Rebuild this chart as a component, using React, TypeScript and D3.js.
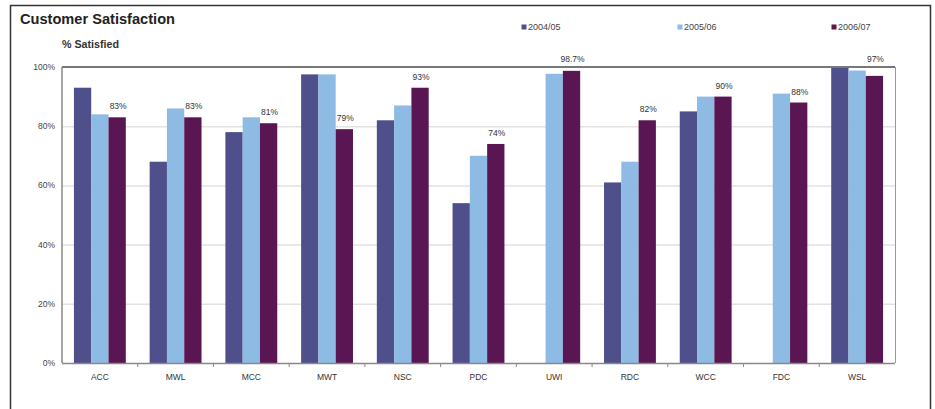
import { useEffect, useRef } from "react";
import * as d3 from "d3";

const categories = ["ACC", "MWL", "MCC", "MWT", "NSC", "PDC", "UWI", "RDC", "WCC", "FDC", "WSL"];
const seriesNames = ["2004/05", "2005/06", "2006/07"];
const values0405 = [93, 68, 78, 97.5, 82, 54, null, 61, 85, null, 100];
const values0506 = [84, 86, 83, 97.5, 87, 70, 97.7, 68, 90, 91, 98.8];
const values0607 = [83, 83, 81, 79, 93, 74, 98.7, 82, 90, 88, 97];
const barLabels = ["83%", "83%", "81%", "79%", "93%", "74%", "98.7%", "82%", "90%", "88%", "97%"];
const yTicks = [0, 20, 40, 60, 80, 100];
const colors = ["#4f4f8c", "#8dbbe4", "#5a1653"];

const W = 935;
const H = 409;

const App = () => {
  const svgRef = useRef<SVGSVGElement>(null);

  useEffect(() => {
    if (!svgRef.current) return;
    const svg = d3.select(svgRef.current);
    svg.selectAll("*").remove();

    const font = "'Liberation Sans', Arial, sans-serif";
    const plot = { left: 62, right: 895, top: 67, bottom: 363 };

    svg.append("rect").attr("width", W).attr("height", H).attr("fill", "#fff");

    // outer frame (open at the bottom)
    svg.append("path")
      .attr("d", `M10.5,${H}V5.5H930.5V${H}`)
      .attr("fill", "none")
      .attr("stroke", "#333")
      .attr("stroke-width", 1.5);

    svg.append("text")
      .attr("x", 20).attr("y", 24)
      .attr("font-family", font).attr("font-weight", "bold").attr("font-size", 14)
      .attr("textLength", 155).attr("lengthAdjust", "spacingAndGlyphs")
      .attr("fill", "#222")
      .text("Customer Satisfaction");

    svg.append("text")
      .attr("x", 62).attr("y", 48)
      .attr("font-family", font).attr("font-weight", "bold").attr("font-size", 10)
      .attr("textLength", 57).attr("lengthAdjust", "spacingAndGlyphs")
      .attr("fill", "#333")
      .text("% Satisfied");

    const x0 = d3.scaleBand<string>().domain(categories).range([plot.left, plot.right]);
    const x1 = d3.scaleBand<string>().domain(seriesNames)
      .range([0, x0.bandwidth()]).paddingInner(0).paddingOuter(0.69);
    const y = d3.scaleLinear().domain([0, 100]).range([plot.bottom, plot.top]);

    // gridlines
    svg.append("g").selectAll("line")
      .data(yTicks.filter((t) => t > 0 && t < 100))
      .enter().append("line")
      .attr("x1", plot.left).attr("x2", plot.right)
      .attr("y1", (d) => y(d) + 0.5).attr("y2", (d) => y(d) + 0.5)
      .attr("stroke", "#e2e2e2").attr("stroke-width", 1.5);

    // y tick labels
    svg.append("g").selectAll("text")
      .data(yTicks)
      .enter().append("text")
      .attr("x", 55).attr("y", (d) => y(d) + 3)
      .attr("text-anchor", "end")
      .attr("font-family", font).attr("font-size", 8.5)
      .attr("fill", "#444")
      .text((d) => `${d}%`);

    const allSeries = [values0405, values0506, values0607];
    allSeries.forEach((vals, si) => {
      svg.append("g").selectAll("rect")
        .data(categories.map((c, i) => ({ c, v: vals[i] })).filter((d) => d.v != null))
        .enter().append("rect")
        .attr("x", (d) => x0(d.c)! + x1(seriesNames[si])!)
        .attr("y", (d) => y(d.v as number))
        .attr("width", x1.bandwidth())
        .attr("height", (d) => y(0) - y(d.v as number))
        .attr("fill", colors[si]);
    });

    // plot frame
    svg.append("line")
      .attr("x1", plot.left).attr("x2", plot.right)
      .attr("y1", plot.top).attr("y2", plot.top)
      .attr("stroke", "#777").attr("stroke-width", 2);
    svg.append("line")
      .attr("x1", plot.right + 0.5).attr("x2", plot.right + 0.5)
      .attr("y1", plot.top).attr("y2", plot.bottom)
      .attr("stroke", "#999").attr("stroke-width", 1);
    svg.append("line")
      .attr("x1", plot.left).attr("x2", plot.left)
      .attr("y1", plot.top).attr("y2", plot.bottom)
      .attr("stroke", "#888").attr("stroke-width", 1.5);
    svg.append("line")
      .attr("x1", plot.left).attr("x2", plot.right)
      .attr("y1", plot.bottom + 0.5).attr("y2", plot.bottom + 0.5)
      .attr("stroke", "#888").attr("stroke-width", 1.5);

    // value labels on 2006/07, lifted above the top frame when they would cross it
    svg.append("g").selectAll("text")
      .data(categories)
      .enter().append("text")
      .attr("x", (d) => x0(d)! + x1(seriesNames[2])! + x1.bandwidth() / 2 + 1)
      .attr("y", (d, i) => {
        let c = y(values0607[i]) - 11;
        if (c < plot.top + 5) c = Math.min(c, plot.top - 8);
        return c + 3;
      })
      .attr("text-anchor", "middle")
      .attr("font-family", font).attr("font-size", 8.5)
      .attr("fill", "#333")
      .text((d, i) => barLabels[i]);

    // x ticks between categories
    svg.append("g").selectAll("line")
      .data(categories.slice(1))
      .enter().append("line")
      .attr("x1", (d) => x0(d)!).attr("x2", (d) => x0(d)!)
      .attr("y1", plot.bottom).attr("y2", plot.bottom + 4)
      .attr("stroke", "#888");

    // x labels
    svg.append("g").selectAll("text")
      .data(categories)
      .enter().append("text")
      .attr("x", (d) => x0(d)! + x0.bandwidth() / 2)
      .attr("y", 380)
      .attr("text-anchor", "middle")
      .attr("font-family", font).attr("font-size", 8.5)
      .attr("fill", "#333")
      .text((d) => d);

    // legend
    const legendX = [524, 680, 834];
    const legend = svg.append("g").selectAll("g")
      .data(seriesNames)
      .enter().append("g")
      .attr("transform", (d, i) => `translate(${legendX[i]},27)`);
    legend.append("rect")
      .attr("x", -2.5).attr("y", -2.5).attr("width", 5).attr("height", 5)
      .attr("fill", (d, i) => colors[i]);
    legend.append("text")
      .attr("x", 4).attr("y", 3)
      .attr("font-family", font).attr("font-size", 9)
      .attr("fill", "#444")
      .text((d) => d);
  }, []);

  return <svg ref={svgRef} width={W} height={H} style={{ display: "block", position: "absolute", left: 0, top: 0 }} />;
};

export default App;
